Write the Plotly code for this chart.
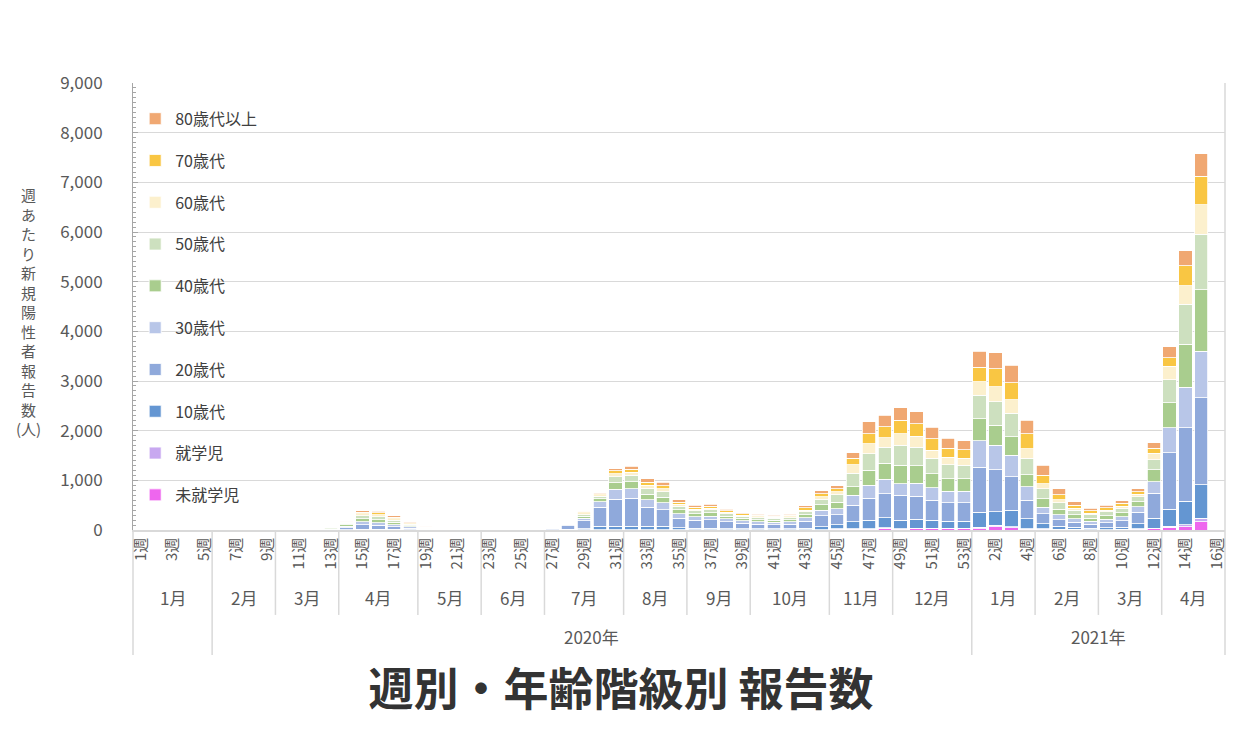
import plotly.graph_objects as go

# ---------------- data ----------------
weeks_2020 = list(range(1, 54))
weeks_2021 = list(range(1, 17))
week_labels = [f"{w}週" for w in weeks_2020] + [f"{w}週" for w in weeks_2021]

month_labels = ["1月", "2月", "3月", "4月", "5月", "6月", "7月", "8月", "9月", "10月", "11月", "12月",
                "1月", "2月", "3月", "4月"]
month_weeks = [5, 4, 4, 5, 4, 4, 5, 4, 4, 5, 4, 5, 4, 4, 4, 4]
year_labels = ["", "2020年", "2021年"]
year_weeks = [5, 48, 16]

Z9 = [0] * 9
# 2020 weeks 10-53, then 2021 weeks 1-16
age80 = Z9 + [3, 4, 2, 5, 10, 30, 35, 30, 20, 10, 3, 1, 0, 0, 0, 1, 1, 1, 2, 10, 15, 45, 55, 70, 70, 50,
              40, 40, 35, 25, 25, 25, 25, 45, 60, 60, 115, 235, 230, 250, 240, 230, 200, 180] + \
        [320, 320, 360, 270, 200, 120, 70, 50, 50, 55, 60, 115, 220, 300, 460, 0]
age70 = Z9 + [5, 6, 3, 8, 15, 35, 35, 30, 20, 10, 3, 1, 0, 0, 1, 1, 1, 2, 4, 25, 30, 55, 60, 60, 60, 45,
              40, 40, 30, 25, 25, 20, 25, 45, 60, 60, 135, 200, 220, 270, 250, 230, 190, 180] + \
        [300, 370, 340, 300, 170, 100, 60, 50, 50, 55, 50, 100, 170, 400, 570, 0]
age60 = Z9 + [10, 10, 5, 10, 20, 40, 40, 30, 18, 10, 2, 1, 1, 0, 1, 1, 2, 2, 5, 40, 30, 60, 60, 60, 60, 35,
              30, 30, 25, 20, 20, 20, 20, 30, 50, 60, 170, 200, 190, 235, 220, 170, 150, 140] + \
        [270, 300, 270, 200, 100, 60, 40, 30, 35, 40, 50, 135, 270, 370, 600, 0]
age50 = Z9 + [8, 8, 4, 15, 30, 60, 60, 45, 25, 12, 3, 1, 1, 1, 1, 2, 3, 4, 10, 30, 50, 120, 130, 120, 110, 70,
              60, 60, 50, 45, 40, 40, 40, 60, 110, 150, 270, 335, 330, 400, 380, 310, 280, 270] + \
        [470, 470, 470, 330, 200, 130, 90, 70, 80, 90, 100, 200, 470, 810, 1110, 0]
age40 = Z9 + [6, 5, 3, 12, 30, 60, 60, 45, 25, 10, 3, 1, 1, 0, 1, 2, 3, 5, 12, 35, 60, 135, 140, 110, 110, 80,
              60, 70, 55, 50, 45, 40, 45, 65, 110, 130, 170, 300, 320, 370, 350, 280, 250, 250] + \
        [440, 400, 370, 240, 170, 110, 80, 60, 70, 80, 100, 235, 500, 870, 1240, 0]
age30 = Z9 + [3, 3, 2, 10, 30, 60, 55, 40, 22, 10, 2, 2, 1, 1, 2, 4, 5, 8, 20, 50, 110, 200, 200, 150, 140, 90,
              70, 75, 60, 50, 45, 45, 45, 70, 110, 120, 200, 270, 290, 235, 260, 250, 230, 230] + \
        [540, 500, 440, 270, 130, 100, 70, 60, 70, 85, 110, 235, 500, 810, 940, 0]
age20 = Z9 + [3, 3, 1, 15, 35, 85, 75, 55, 30, 14, 3, 2, 1, 1, 2, 8, 12, 25, 75, 160, 380, 545, 560, 380, 330, 190,
              160, 165, 135, 110, 95, 85, 95, 140, 220, 200, 335, 435, 480, 500, 460, 400, 370, 370] + \
        [900, 840, 670, 370, 200, 130, 100, 80, 100, 125, 230, 500, 1140, 1480, 1750, 0]
age10 = Z9 + [1, 1, 0, 3, 5, 10, 10, 8, 5, 2, 1, 1, 0, 0, 0, 1, 2, 3, 10, 25, 65, 65, 65, 70, 70, 40,
              30, 30, 25, 20, 20, 20, 20, 30, 60, 80, 135, 170, 200, 170, 180, 160, 140, 140] + \
        [300, 270, 330, 200, 100, 60, 40, 30, 35, 45, 100, 200, 340, 470, 670, 0]
school = Z9 + [0, 0, 0, 1, 2, 4, 4, 3, 2, 1, 0, 0, 0, 0, 0, 0, 0, 0, 1, 2, 5, 5, 5, 5, 5, 5,
               5, 5, 3, 3, 3, 3, 3, 3, 5, 10, 10, 10, 10, 10, 10, 10, 10, 10] + \
         [30, 30, 20, 10, 10, 5, 5, 3, 3, 5, 10, 10, 20, 40, 70, 0]
preschool = Z9 + [1, 0, 0, 1, 3, 6, 6, 4, 3, 1, 0, 0, 0, 0, 0, 0, 1, 0, 1, 3, 5, 5, 5, 5, 5, 5,
                  5, 5, 2, 2, 2, 2, 2, 2, 5, 20, 20, 20, 40, 20, 30, 30, 30, 30] + \
            [30, 70, 50, 20, 20, 15, 15, 7, 7, 10, 20, 30, 60, 70, 170, 0]

series_names = ["未就学児", "就学児", "10歳代", "20歳代", "30歳代", "40歳代", "50歳代", "60歳代", "70歳代", "80歳代以上"]
series_values = [preschool, school, age10, age20, age30, age40, age50, age60, age70, age80]
series_colors = ["#EE66EE", "#C8A8F0", "#6496D2", "#8FA9DB", "#B8C6E8", "#A9CD8E", "#CDE0BF", "#FCF0CD",
                 "#F9C643", "#F0A872"]

y_title_chars = ["週", "あ", "た", "り", "新", "規", "陽", "性", "者", "報", "告", "数", "(人)"]
chart_title = "週別・年齢階級別 報告数"

# ---------------- figure ----------------
FONT = "Noto Sans CJK JP"
GREY = "#595959"
n = len(week_labels)
xs = list(range(n))

fig = go.Figure()
k = len(series_names)
for i, (name, vals, col) in enumerate(zip(series_names, series_values, series_colors)):
    assert len(vals) == n, name
    fig.add_trace(go.Bar(
        x=xs, y=vals, name=name, legendgroup=name, legendrank=(k - i) * 10,
        marker=dict(color=col, line=dict(color="white", width=0.8)),
    ))

# group labels and divider lines (paper coordinates derived from group sizes)
shapes = []
annotations = []
start = 0
for lab, cnt in zip(month_labels, month_weeks):
    annotations.append(dict(x=(start + cnt / 2) / n, y=-0.15, xref="paper", yref="paper",
                            text=lab, showarrow=False, xanchor="center", yanchor="middle",
                            font=dict(family=FONT, size=17, color=GREY)))
    start += cnt
year_bounds = [0]
start = 0
for lab, cnt in zip(year_labels, year_weeks):
    annotations.append(dict(x=(start + cnt / 2) / n, y=-0.239, xref="paper", yref="paper",
                            text=lab, showarrow=False, xanchor="center", yanchor="middle",
                            font=dict(family=FONT, size=17, color=GREY)))
    start += cnt
    year_bounds.append(start)

month_bounds = [0]
acc = 0
for cnt in month_weeks:
    acc += cnt
    month_bounds.append(acc)
for b in month_bounds:
    bottom = -0.2796 if b in year_bounds else -0.19
    shapes.append(dict(type="line", xref="paper", yref="paper", x0=b / n, x1=b / n, y0=0, y1=bottom,
                       line=dict(color="#D9D9D9", width=1.5), layer="below"))
# right border of plot area
shapes.append(dict(type="line", xref="paper", yref="paper", x0=1, x1=1, y0=0, y1=1,
                   line=dict(color="#D9D9D9", width=1.5)))

# vertical y-axis title
annotations.append(dict(x=-0.096, y=0.488, xref="paper", yref="paper",
                        text="<br>".join(y_title_chars),
                        showarrow=False, xanchor="center", yanchor="middle", align="center",
                        font=dict(family=FONT, size=15, color=GREY)))

fig.update_layout(
    width=1242, height=746, autosize=False,
    margin=dict(l=133, r=17, t=83, b=216),
    paper_bgcolor="white", plot_bgcolor="white",
    barmode="stack", bargap=0.15,
    font=dict(family=FONT, color=GREY),
    title=dict(text="<b>" + chart_title + "</b>", x=0.5, xref="container", xanchor="center",
               y=0.075, yref="container", yanchor="middle",
               font=dict(family=FONT, size=45, color="#333333")),
    legend=dict(x=0.002, y=0.958, xanchor="left", yanchor="top", bgcolor="rgba(0,0,0,0)",
                traceorder="grouped", tracegroupgap=18,
                font=dict(family=FONT, size=16, color="#404040")),
    shapes=shapes, annotations=annotations,
    xaxis=dict(range=[-0.5, n - 0.5], tickmode="array", tickvals=xs[::2], ticktext=week_labels[::2],
               tickangle=-90, tickfont=dict(family=FONT, size=15, color=GREY),
               showline=True, linecolor="#D9D9D9", linewidth=1.5, showgrid=False, ticks="",
               fixedrange=True),
    yaxis=dict(range=[0, 9000], dtick=1000, tickformat=",d", showgrid=True, gridcolor="#D9D9D9",
               gridwidth=1.3, showline=True, linecolor="#A6A6A6", linewidth=1, zeroline=False,
               ticks="inside", ticklen=5, tickcolor="#A6A6A6",
               minor=dict(dtick=100, ticks="inside", ticklen=3, tickcolor="#A6A6A6", showgrid=False),
               tickfont=dict(family=FONT, size=17, color=GREY), ticklabelstandoff=26),
    showlegend=True,
)

fig.write_html("out.html")
